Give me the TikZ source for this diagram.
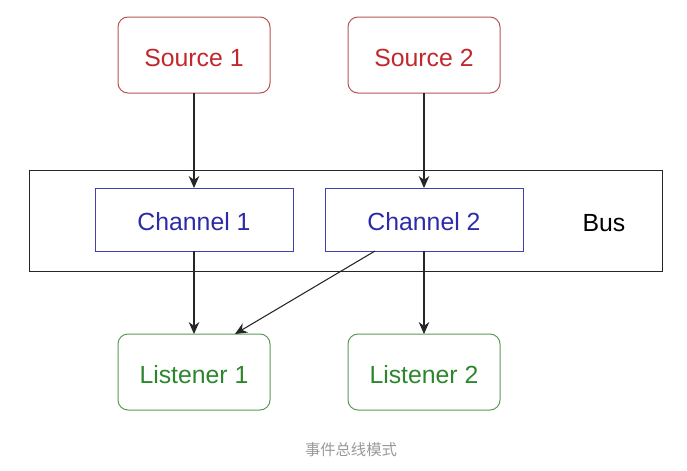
\documentclass[tikz,border=0pt]{standalone}
\usepackage{fontspec}
\setmainfont{Liberation Sans}
\newfontfamily\cjk{Noto Sans CJK SC}
\usetikzlibrary{arrows.meta}
\definecolor{srcline}{HTML}{B85450}
\definecolor{srctext}{HTML}{C0282D}
\definecolor{chline}{HTML}{4040B0}
\definecolor{chtext}{HTML}{2B2BAA}
\definecolor{lsline}{HTML}{5A9A5A}
\definecolor{lstext}{HTML}{2D862D}
\begin{document}
\begin{tikzpicture}[x=0.75pt,y=-0.75pt,
  every node/.style={inner sep=0pt,outer sep=0pt,font=\fontsize{18.6}{22}\selectfont},
  txt/.style={text height=17pt,text depth=0pt},
  srcbox/.style={txt,draw=srcline,text=srctext,rounded corners=7.5pt,line width=0.75pt,minimum width=114pt,minimum height=57pt},
  chbox/.style={txt,draw=chline,text=chtext,line width=0.75pt,minimum width=148.5pt,minimum height=47.25pt},
  lsbox/.style={txt,draw=lsline,text=lstext,rounded corners=7.5pt,line width=0.75pt,minimum width=114pt,minimum height=57pt},
  conn/.style={draw=black!85,line width=0.8pt,-{Stealth[length=9pt,width=8pt]}}]
\useasboundingbox (0,0) rectangle (687,471);
\node[draw=black!85,line width=0.75pt,minimum width=474.75pt,minimum height=75.75pt] (bus) at (345.5,220.5) {};
\node[txt] (bustext) at (604,220.5) {Bus};
\node[srcbox] (s1) at (194,55) {Source 1};
\node[srcbox] (s2) at (424,55) {Source 2};
\node[chbox] (c1) at (194,219.5) {Channel 1};
\node[chbox] (c2) at (424,219.5) {Channel 2};
\node[lsbox] (l1) at (194,372) {Listener 1};
\node[lsbox] (l2) at (424,372) {Listener 2};
\node[text=black!40,font=\cjk\fontsize{11.5}{14}\selectfont] (cap) at (351,450) {事件总线模式};
\draw[conn] (s1) -- (c1);
\draw[conn] (s2) -- (c2);
\draw[conn] (c1) -- (l1);
\draw[conn] (c2) -- (l2);
\draw[conn] ([xshift=-36.75pt]c2.south) -- ([xshift=30.75pt]l1.north);
\end{tikzpicture}
\end{document}
